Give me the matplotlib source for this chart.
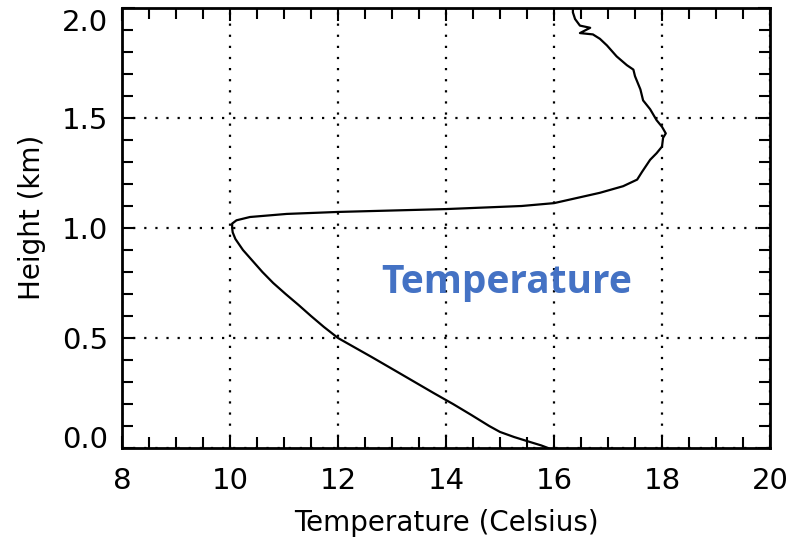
import numpy as np
import matplotlib.pyplot as plt
from matplotlib.ticker import MultipleLocator
from matplotlib.transforms import ScaledTranslation

# temperature profile (Celsius vs height in km)
height = [0.0, 0.012, 0.027, 0.05, 0.073, 0.1, 0.15, 0.2, 0.218, 0.25, 0.3,
          0.35, 0.414, 0.45, 0.5, 0.55, 0.6, 0.65, 0.7, 0.75, 0.8, 0.85,
          0.9, 0.95, 0.98, 1.0, 1.02, 1.035, 1.05, 1.064, 1.073, 1.086, 1.1,
          1.113, 1.16, 1.19, 1.22, 1.255, 1.31, 1.34, 1.37, 1.41, 1.43, 1.46,
          1.49, 1.54, 1.58, 1.63, 1.69, 1.72, 1.74, 1.78, 1.83, 1.86, 1.88,
          1.886, 1.91, 1.92, 1.95, 1.98, 2.0]
temp = [15.89, 15.76, 15.56, 15.26, 15.0, 14.8, 14.47, 14.13, 14.0, 13.77,
        13.42, 13.07, 12.62, 12.36, 12.0, 11.74, 11.5, 11.27, 11.03, 10.8,
        10.6, 10.42, 10.24, 10.1, 10.05, 10.04, 10.04, 10.12, 10.37, 11.05,
        12.0, 14.0, 15.4, 16.0, 16.85, 17.28, 17.54, 17.63, 17.78, 17.9,
        18.0, 18.02, 18.07, 18.0, 17.9, 17.78, 17.65, 17.6, 17.5, 17.47,
        17.35, 17.16, 16.98, 16.85, 16.72, 16.48, 16.67, 16.48, 16.39,
        16.35, 16.35]

x_ticks = [8, 10, 12, 14, 16, 18, 20]
y_ticks = [0.0, 0.5, 1.0, 1.5, 2.0]

fig = plt.figure(figsize=(7.94, 5.37), dpi=100)
ax = fig.add_axes([122 / 794, 1 - 448 / 537, 648 / 794, 440 / 537])

ax.plot(temp, height, color='black', linewidth=1.6)

ax.set_xlim(8, 20)
ax.set_ylim(0, 2)
ax.set_xticks(x_ticks)
ax.set_yticks(y_ticks)
ax.set_yticklabels(["%.1f" % v for v in y_ticks])
ax.xaxis.set_minor_locator(MultipleLocator(0.5))
ax.yaxis.set_minor_locator(MultipleLocator(0.1))

ax.tick_params(which='both', direction='in', top=True, right=True,
               width=1.5, labelsize=21)
ax.tick_params(axis='x', pad=14)
ax.tick_params(axis='y', pad=10)
ax.tick_params(which='major', length=9)
ax.tick_params(which='minor', length=8)

for s in ax.spines.values():
    s.set_linewidth(2)

ax.grid(True, which='major', color='black', linestyle=(0, (1, 4)),
        linewidth=1.6)

ax.set_xlabel("Temperature (Celsius)", fontsize=20, labelpad=10)
ax.set_ylabel("Height (km)", fontsize=20, labelpad=10)
ax.yaxis.set_label_coords(-0.118, 0.525)

# end labels of the y axis sit inside the axis range, as in the original
ylabels = ax.get_yticklabels()
ylabels[0].set_transform(ylabels[0].get_transform() +
                         ScaledTranslation(0, 0.11, fig.dpi_scale_trans))
ylabels[-1].set_transform(ylabels[-1].get_transform() +
                          ScaledTranslation(0, -0.12, fig.dpi_scale_trans))

fig.text(507 / 794, 1 - 283 / 537, "Temperature", color='#4472C4',
         fontsize=28, fontweight='bold', family='Open Sans',
         ha='center', va='center')

fig.savefig("out.png", dpi=100)
